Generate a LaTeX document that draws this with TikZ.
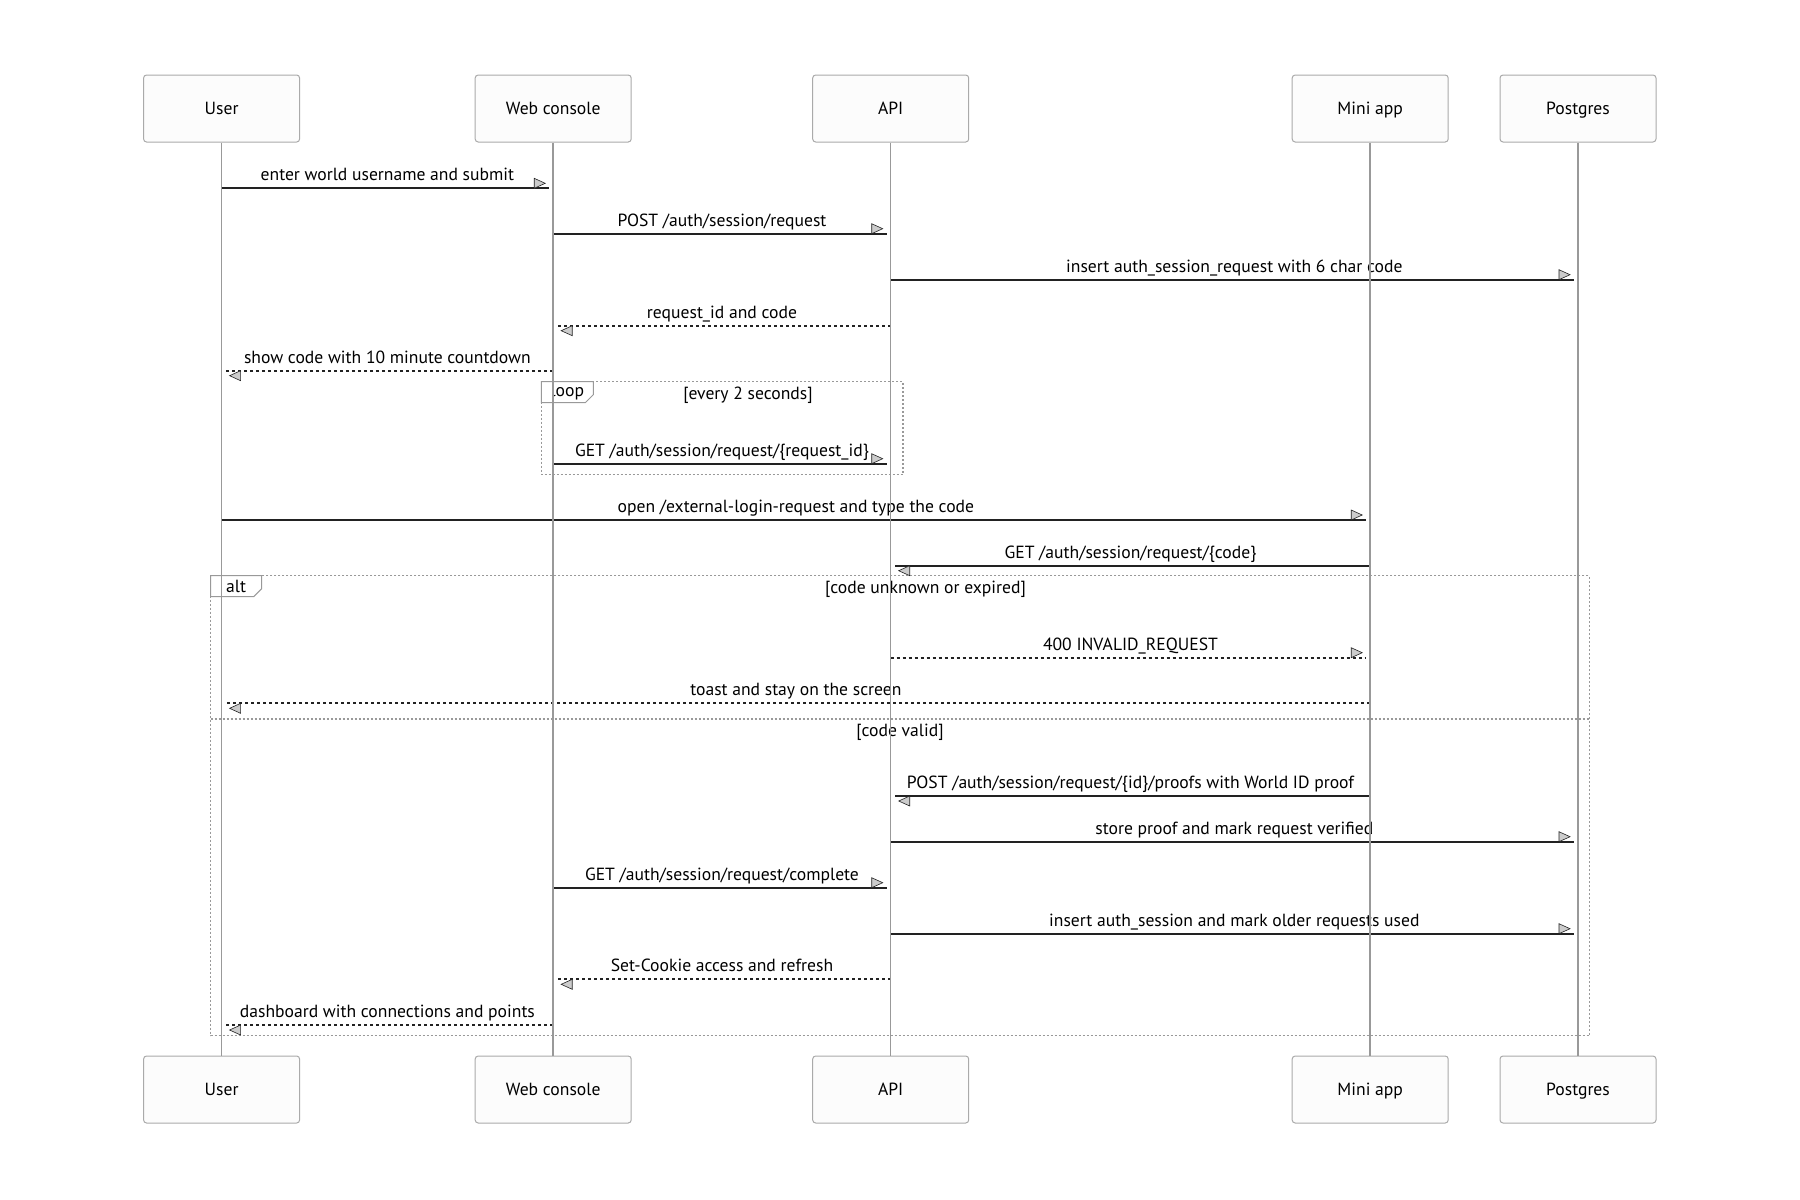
\documentclass[tikz,border=0pt]{standalone}
\usepackage{fontspec}
\setmainfont{PT Sans}
\usepackage{tikz}
\usetikzlibrary{positioning,calc,decorations.markings}

\definecolor{ink}{HTML}{222222}
\definecolor{lanegray}{HTML}{999999}
\definecolor{boxline}{HTML}{AAAAAA}
\definecolor{boxfill}{HTML}{FCFCFC}
\definecolor{headgray}{HTML}{CCCCCC}
\definecolor{framegray}{HTML}{999999}

\tikzset{
  every node/.style={font=\fontsize{17.6}{21}\selectfont,text=black},
  actor/.style={draw=boxline,fill=boxfill,line width=1pt,rounded corners=3pt,
    minimum width=156pt,minimum height=67pt,inner sep=0pt,
    text height=13pt,text depth=0.4pt},
  lifeline/.style={draw=lanegray,line width=1.5pt},
  msg/.style={draw=ink,line width=1.7pt,postaction={decorate},
    decoration={markings,mark=at position 1 with {
      \draw[solid,line width=0.6pt,draw=ink,fill=headgray]
        (-4pt,5pt) -- (-15pt,0pt) -- (-15pt,10pt) -- cycle;}}},
  reply/.style={msg,dash pattern=on 3pt off 3pt},
  lbl/.style={anchor=base,inner sep=0pt},
  frame/.style={draw=framegray,line width=1.3pt,dash pattern=on 2pt off 2pt},
  tab/.style={draw=framegray,line width=1pt,fill=white}
}

% name, from, to, y, text
\newcommand\seqmsg[6][msg]{%
  \coordinate (#2-s) at (#3 |- 0,#5);
  \coordinate (#2-t) at (#4 |- 0,#5);
  \draw[#1] (#2-s) -- ($(#2-t)!4pt!(#2-s)$);
  \node(#2)[lbl] at ($(#2-s)!.5!(#2-t)+(0,-7.5)$) {#6};
}

\begin{document}
\begin{tikzpicture}[x=1pt,y=-1pt]
	\useasboundingbox (0,0) rectangle (1800,1200);

	\node(user)[actor] at (221.6,108.5) {User};
	\node(web)[actor,right=174.6pt of user] {Web console};
	\node(api)[actor,right=180.5pt of web] {API};
	\node(mini)[actor,right=322.5pt of api] {Mini app};
	\node(pg)[actor,right=50.8pt of mini] {Postgres};

	\node(userb)[actor,below=913pt of user] {User};
	\node(webb)[actor,below=913pt of web] {Web console};
	\node(apib)[actor,below=913pt of api] {API};
	\node(minib)[actor,below=913pt of mini] {Mini app};
	\node(pgb)[actor,below=913pt of pg] {Postgres};

	% loop frame
	\coordinate (loop-nw) at (541.3,381.7);
	\coordinate (loop-se) at (903,474.3);
	\draw[frame] (loop-nw) rectangle (loop-se);
	\draw[tab] (loop-nw) -- ++(52,0) -- ++(0,13) -- ++(-8,8) -- ++(-44,0) -- cycle;
	\node(loop-tag) at ($(loop-nw)+(26,10.5)$) {loop};
	\node(loop-cond) at (748,395) {[every 2 seconds]};

	% alt frame
	\coordinate (alt-nw) at (210.6,575.7);
	\coordinate (alt-se) at (1589.5,1035.7);
	\draw[frame] (alt-nw) rectangle (alt-se);
	\draw[frame] (alt-nw |- 0,719) -- (alt-se |- 0,719);
	\draw[tab] (alt-nw) -- ++(51,0) -- ++(0,13) -- ++(-8,8) -- ++(-43,0) -- cycle;
	\node(alt-tag) at ($(alt-nw)+(25.5,10.5)$) {alt};
	\node(alt-cond) at (925.5,589) {[code unknown or expired]};
	\node(else-cond) at (900,732.3) {[code valid]};

	\seqmsg{m1}{user}{web}{188.3}{enter world username and submit}
	\seqmsg{m2}{web}{api}{233.7}{POST /auth/session/request}
	\seqmsg{m3}{api}{pg}{279.7}{insert auth\_session\_request with 6 char code}
	\seqmsg[reply]{m4}{api}{web}{325.7}{request\_id and code}
	\seqmsg[reply]{m5}{web}{user}{370.7}{show code with 10 minute countdown}
	\seqmsg{m6}{web}{api}{463.7}{GET /auth/session/request/\{request\_id\}}
	\seqmsg{m7}{user}{mini}{520}{open /external-login-request and type the code}
	\seqmsg{m8}{mini}{api}{565.7}{GET /auth/session/request/\{code\}}
	\seqmsg[reply]{m9}{api}{mini}{657.7}{400 INVALID\_REQUEST}
	\seqmsg[reply]{m10}{mini}{user}{703.3}{toast and stay on the screen}
	\seqmsg{m11}{mini}{api}{796}{POST /auth/session/request/\{id\}/proofs with World ID proof}
	\seqmsg{m12}{api}{pg}{841.7}{store proof and mark request verified}
	\seqmsg{m13}{web}{api}{887.7}{GET /auth/session/request/complete}
	\seqmsg{m14}{api}{pg}{933.7}{insert auth\_session and mark older requests used}
	\seqmsg[reply]{m15}{api}{web}{979.3}{Set-Cookie access and refresh}
	\seqmsg[reply]{m16}{web}{user}{1025}{dashboard with connections and points}

	\draw[lifeline] (user) -- (userb);
	\draw[lifeline] (web) -- (webb);
	\draw[lifeline] (api) -- (apib);
	\draw[lifeline] (mini) -- (minib);
	\draw[lifeline] (pg) -- (pgb);
\end{tikzpicture}
\end{document}
